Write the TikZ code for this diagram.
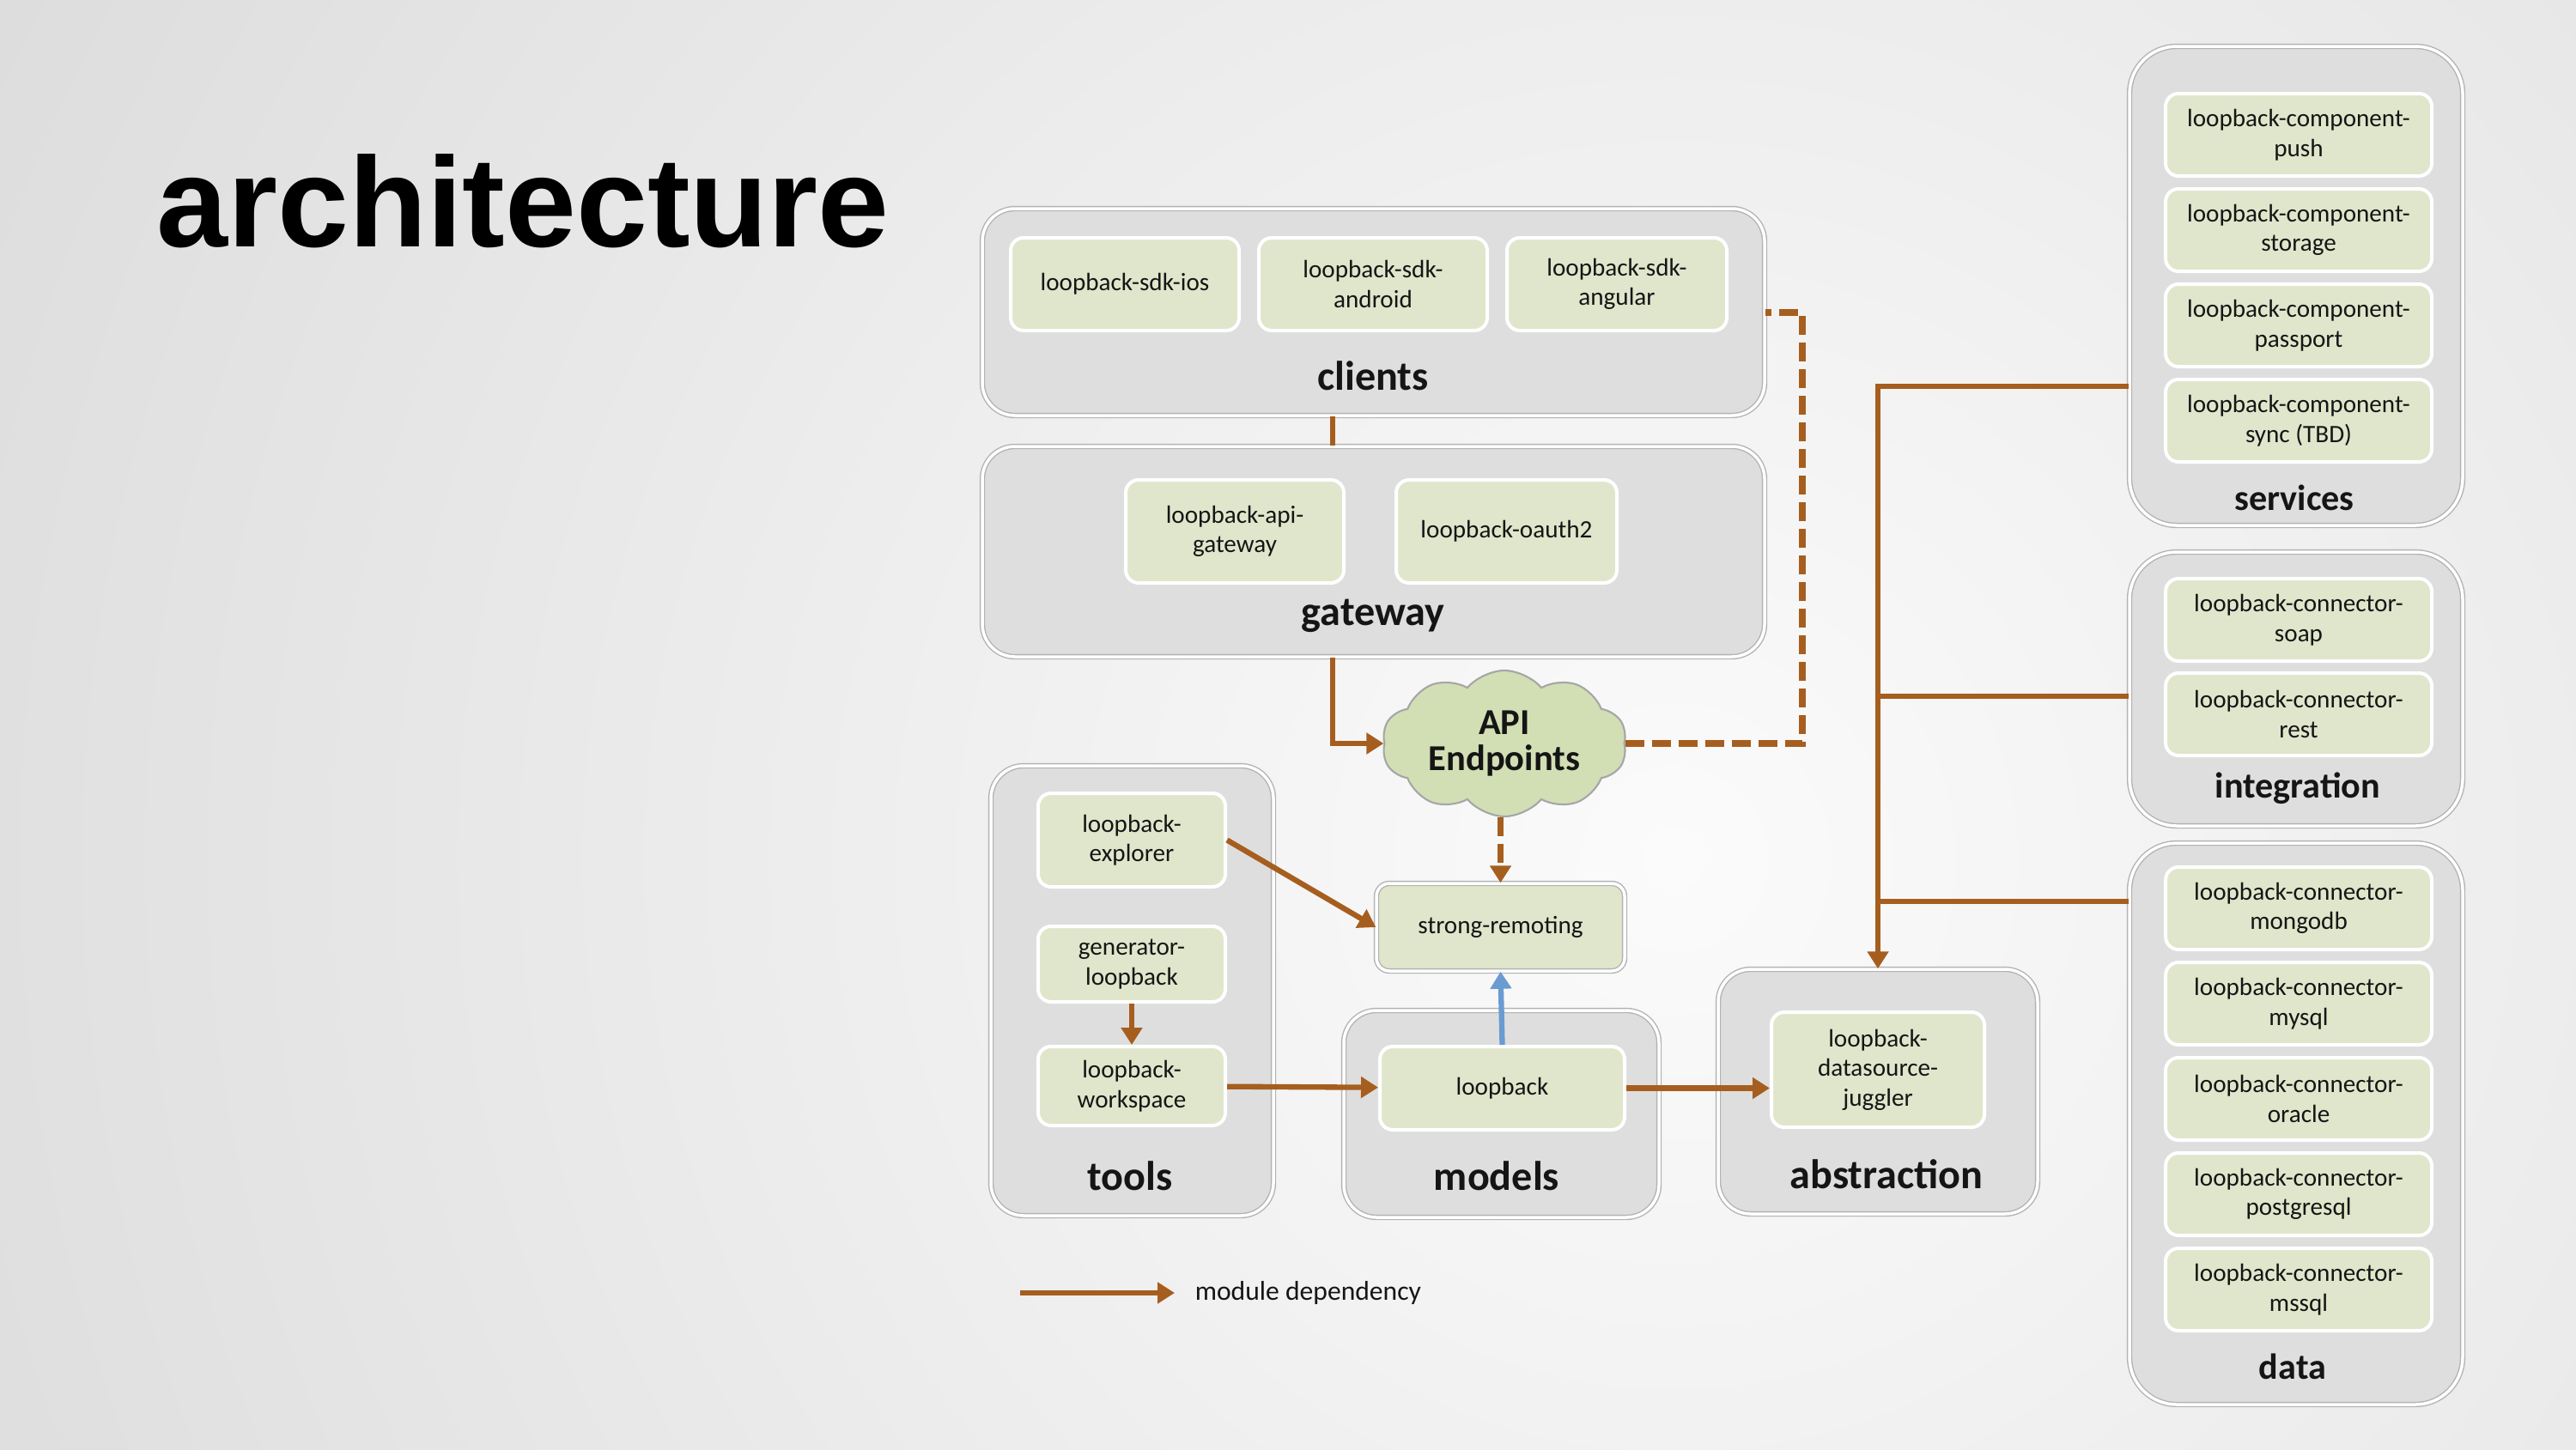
\documentclass[tikz,border=0pt]{standalone}
\usepackage{fontspec}
\setmainfont{Carlito}
\newfontfamily\titlefont{Liberation Sans}
\usetikzlibrary{shapes.symbols,arrows.meta}
\definecolor{bgin}{HTML}{FBFBFB}
\definecolor{bgout}{HTML}{C4C4C4}
\definecolor{grpfill}{HTML}{DEDEDE}
\definecolor{grpline}{HTML}{B3B3B3}
\definecolor{modfill}{HTML}{DFE6CB}
\definecolor{cloudfill}{HTML}{D2DEB4}
\definecolor{depcol}{HTML}{A65E1F}
\definecolor{remcol}{HTML}{6A9BD1}
\definecolor{txtcol}{HTML}{151515}

\begin{document}
\begin{tikzpicture}
  [x=1cm,y=-1cm,
   group/.style={rectangle,rounded corners=0.38cm,fill=grpfill,draw=grpline,line width=0.4pt,double=white,double distance=0.035cm},
   module/.style={rectangle,rounded corners=0.15cm,fill=modfill,draw=white,line width=0.04cm,inner sep=0pt,align=center,text=txtcol,font=\fontsize{8.3}{9.8}\selectfont},
   rmodule/.style={module,minimum width=3.10cm,minimum height=0.96cm},
   remote/.style={module,draw=grpline,line width=0.4pt,double=white,double distance=0.035cm},
   endpoints/.style={cloud,cloud puffs=10,cloud puff arc=100,cloud ignores aspect,fill=cloudfill,draw=black!35,line width=0.6pt,minimum width=2.85cm,minimum height=1.7cm,inner sep=0pt,align=center,text=txtcol,font=\bfseries\fontsize{12.1}{12}\selectfont},
   biglabel/.style={text=txtcol,font=\bfseries\fontsize{13.7}{16}\selectfont},
   smalllabel/.style={text=txtcol,font=\bfseries\fontsize{12}{14}\selectfont},
   titletext/.style={anchor=base west,inner sep=0pt,font=\titlefont\bfseries\fontsize{42.4}{50}\selectfont},
   legendtext/.style={anchor=west,inner sep=2pt,text=txtcol,font=\fontsize{9}{11}\selectfont},
   link/.style={color=depcol,line width=1.8pt},
   dep/.style={link,-{Triangle[length=0.2cm,width=0.24cm]}},
   optional/.style={line width=2.1pt,dash pattern=on 0.22cm off 0.09cm}]

  \useasboundingbox (0,0) rectangle (30,16.88);
  \begin{scope}
    \clip (0,0) rectangle (30,16.88);
    \shade[inner color=bgin,outer color=bgout] (19.5,10) circle (40);
  \end{scope}

  \node[titletext] (title) at (1.82,2.87) {architecture};

  \node[group,minimum width=9.11cm,minimum height=2.41cm] (clients) at (15.995,3.635) {};
  \node[module,minimum width=2.66cm,minimum height=1.08cm] (sdkios) at (13.10,3.31) {loopback-sdk-ios};
  \node[module,minimum width=2.66cm,minimum height=1.08cm] (sdkandroid) at (15.99,3.31) {loopback-sdk-\\android};
  \node[module,minimum width=2.56cm,minimum height=1.08cm] (sdkangular) at (18.83,3.31) {loopback-sdk-\\angular};
  \node[biglabel] (clientslbl) at (15.99,4.38) {clients};

  \node[group,minimum width=9.11cm,minimum height=2.45cm] (gateway) at (15.995,6.425) {};
  \node[module,minimum width=2.54cm,minimum height=1.20cm] (apigw) at (14.38,6.19) {loopback-api-\\gateway};
  \node[module,minimum width=2.57cm,minimum height=1.20cm] (oauth) at (17.545,6.19) {loopback-oauth2};
  \node[biglabel] (gatewaylbl) at (15.99,7.17) {gateway};

  \node[endpoints] (api) at (17.52,8.66) {API\\Endpoints};
  \node[remote,minimum width=2.89cm,minimum height=1.02cm] (strong) at (17.475,10.80) {strong-remoting};

  \node[group,minimum width=3.29cm,minimum height=5.24cm] (tools) at (13.185,11.54) {};
  \node[module,minimum width=2.18cm,minimum height=1.09cm] (explorer) at (13.18,9.785) {loopback-\\explorer};
  \node[module,minimum width=2.18cm,minimum height=0.88cm] (generator) at (13.18,11.23) {generator-\\loopback};
  \node[module,minimum width=2.18cm,minimum height=0.92cm] (workspace) at (13.18,12.65) {loopback-\\workspace};
  \node[biglabel] (toolslbl) at (13.16,13.70) {tools};

  \node[group,minimum width=3.67cm,minimum height=2.41cm] (models) at (17.485,12.975) {};
  \node[module,minimum width=2.85cm,minimum height=0.97cm] (loopback) at (17.495,12.675) {loopback};
  \node[biglabel] (modelslbl) at (17.43,13.70) {models};

  \node[group,minimum width=3.72cm,minimum height=2.85cm] (abstraction) at (21.87,12.715) {};
  \node[module,minimum width=2.48cm,minimum height=1.34cm] (juggler) at (21.87,12.46) {loopback-\\datasource-\\juggler};
  \node[biglabel] (abstractionlbl) at (21.97,13.68) {abstraction};

  \node[group,rounded corners=0.55cm,minimum width=3.88cm,minimum height=5.58cm] (services) at (26.74,3.33) {};
  \foreach \name/\what/\y in {push/push/1.57, storage/storage/2.68, passport/passport/3.79, sync/sync (TBD)/4.90}
    \node[rmodule] (\name) at (26.77,\y) {loopback-component-\\\what};
  \node[smalllabel] (serviceslbl) at (26.72,5.80) {services};

  \node[group,rounded corners=0.55cm,minimum width=3.88cm,minimum height=3.19cm] (integration) at (26.74,8.025) {};
  \foreach \name/\y in {soap/7.22, rest/8.32}
    \node[rmodule] (\name) at (26.77,\y) {loopback-connector-\\\name};
  \node[smalllabel] (integrationlbl) at (26.76,9.18) {integration};

  \node[group,rounded corners=0.55cm,minimum width=3.88cm,minimum height=6.54cm] (data) at (26.74,13.09) {};
  \foreach \name/\y in {mongodb/10.58, mysql/11.69, oracle/12.80, postgresql/13.91, mssql/15.02}
    \node[rmodule] (\name) at (26.77,\y) {loopback-connector-\\\name};
  \node[smalllabel] (datalbl) at (26.70,15.92) {data};

  \coordinate (gwx) at (15.52,0);
  \coordinate (dashtop) at (20.99,3.64);
  \coordinate (busA) at (21.87,4.50);
  \coordinate (busB) at (21.87,8.11);
  \coordinate (busC) at (21.87,10.50);

  \draw[link] (clients.south -| gwx) -- (gateway.north -| gwx);
  \draw[dep] (gateway.south -| gwx) |- (api.west);
  \draw[link,optional] (api.east) -| (dashtop) -- (clients.east |- dashtop);
  \draw[dep,optional] (api.south -| strong.north) -- (strong.north);
  \foreach \from/\to in {generator/workspace, workspace/loopback}
    \draw[dep] (\from) -- (\to);
  \draw[dep] (explorer.east) -- (strong.west);
  \draw[dep] (loopback.east) -- (loopback.east -| juggler.west);
  \draw[dep,color=remcol] (loopback.north) -- (strong.south);
  \draw[dep] (services.west |- busA) -- (busA) -- (abstraction.north);
  \draw[link] (integration.west |- busB) -- (busB);
  \draw[link] (data.west |- busC) -- (busC);

  \coordinate (legA) at (11.88,15.06);
  \coordinate (legB) at (13.68,15.06);
  \draw[dep] (legA) -- (legB);
  \node[legendtext] (legtxt) at (13.84,15.06) {module dependency};
\end{tikzpicture}
\end{document}
